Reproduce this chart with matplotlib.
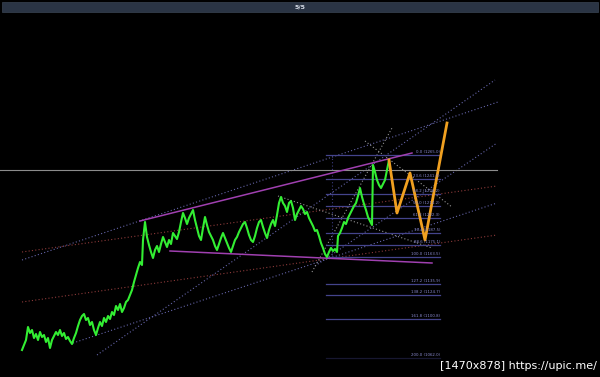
import matplotlib
matplotlib.use("Agg")
import matplotlib.pyplot as plt
from matplotlib.patches import Rectangle

# ---- data (x = bar index, y = price) ----
green_x = [22,24,26,28,30,32,34,36,38,40,42,44,46,48,50,52,54,56,58,60,62,64,66,68,70,72,74,76,78,80,
           82,84,86,88,90,92,94,96,98,100,102,104,106,108,110,112,114,116,118,120,122,124,126,128,130,132,134,136,138,140,
           142,143,145,147,149,151,153,155,157,159,161,163,165,167,169,171,173,175,177,179,181,183,185,187,189,191,193,195,197,199,
           201,203,205,207,209,211,213,215,217,219,221,223,225,227,229,231,233,235,237,239,241,243,245,247,249,251,253,255,257,259,
           261,263,265,267,269,271,273,275,277,279,281,283,285,287,289,291,293,295,297,299,301,303,305,307,309,311,313,315,317,319,
           321,323,325,327,329,331,333,335,337,338,340,342,344,346,348,350,352,354,356,358,360,362,364,366,368,370,372,373,375,377,
           379,381,383,385,387,389]
green_p = [1070,1075,1080,1093,1087,1090,1082,1086,1080,1088,1083,1085,1078,1082,1072,1080,1084,1088,1085,1090,
           1084,1087,1081,1083,1079,1076,1082,1087,1094,1100,1104,1106,1100,1102,1095,1098,1090,1085,1092,1098,
           1094,1102,1098,1104,1101,1108,1105,1114,1110,1116,1108,1112,1118,1120,1125,1130,1138,1145,1152,1158,
           1155,1180,1198,1183,1175,1168,1162,1170,1174,1168,1176,1183,1178,1173,1180,1176,1187,1184,1181,1188,
           1198,1207,1202,1196,1202,1206,1210,1200,1192,1184,1180,1192,1203,1195,1188,1184,1180,1174,1170,1176,
           1182,1187,1182,1177,1172,1168,1174,1180,1183,1188,1192,1196,1198,1192,1185,1180,1178,1184,1192,1198,
           1200,1193,1187,1182,1190,1196,1200,1194,1205,1217,1223,1217,1214,1208,1217,1219,1212,1200,1206,1210,
           1214,1211,1206,1208,1202,1198,1194,1189,1190,1184,1177,1172,1166,1163,1168,1172,1169,1171,1168,1184,
           1187,1192,1198,1196,1202,1206,1210,1214,1217,1224,1232,1223,1216,1210,1203,1199,1195,1255,1248,1240,
           1235,1232,1236,1240,1250,1260]
orange_x = [389, 397, 410, 425, 447]
orange_p = [1260, 1207, 1247, 1180, 1297]

fib_hi, fib_lo = 1265.0, 1163.5
fib_levels = [0.0, 23.6, 38.2, 50.0, 61.8, 76.4, 88.6, 100.0, 127.2, 138.2, 161.8, 200.0]
fib_x0, fib_x1 = 326, 440

hline_price = 1250.5

magenta_lines = [((140, 1199), (412, 1267)), ((170, 1169), (432, 1157))]
lavender_lines = [((22, 1160), (498, 1318)), ((97, 1065), (495, 1340)),
                  ((73, 1077), (497, 1217)), ((315, 1154), (497, 1277))]
red_lines = [((22, 1168), (497, 1234)), ((22, 1118), (497, 1185))]
gray_lines = [((278, 1224), (432, 1172)), ((365, 1279), (452, 1213)), ((312, 1148), (392, 1292))]

# ---- figure ----
fig = plt.figure(figsize=(6.0, 3.77), dpi=100, facecolor="black")
ax = fig.add_axes([0, 0, 1, 1])
ax.set_facecolor("black")
ax.set_xlim(0, 600)
ax.set_ylim(1043, 1420)
ax.axis("off")

dot = (0, (1, 2))
for (a, b) in red_lines:
    ax.plot([a[0], b[0]], [a[1], b[1]], color="#8c3a3a", lw=0.8, ls=dot)
for (a, b) in lavender_lines:
    ax.plot([a[0], b[0]], [a[1], b[1]], color="#6464a8", lw=0.8, ls=dot)
for (a, b) in gray_lines:
    ax.plot([a[0], b[0]], [a[1], b[1]], color="#949494", lw=0.8, ls=dot)

ax.plot([0, 497], [hline_price, hline_price], color="#8c8c8c", lw=0.8)

# fib retracement
ax.plot([332, 332], [fib_hi, fib_lo], color="#3c3c80", lw=0.8, ls=dot)
for lv in fib_levels:
    p = fib_hi - lv / 100.0 * (fib_hi - fib_lo)
    alpha = 0.35 if lv == 200.0 else 1.0
    ax.plot([fib_x0, fib_x1], [p, p], color="#44448c", lw=0.9, alpha=alpha)
    ax.text(fib_x1, p + 0.8, f"{lv:.1f} ({p:.1f})", color="#8a8ad0", fontsize=2.8,
            ha="right", va="bottom")

for (a, b) in magenta_lines:
    ax.plot([a[0], b[0]], [a[1], b[1]], color="#a040b0", lw=1.1)

ax.plot(green_x, green_p, color="#33ee33", lw=1.5)
ax.plot(orange_x, orange_p, color="#f0a020", lw=2.0)

# top bar
fig.patches.append(Rectangle((2 / 600, 1 - 12 / 377), 596 / 600, 10 / 377,
                             transform=fig.transFigure, facecolor="#2a3444",
                             edgecolor="#3a4454", lw=0.5))
fig.text(0.5, 1 - 7 / 377, "5/5", color="#d8dee8", fontsize=4.5, fontweight="bold",
         ha="center", va="center")

# watermark
fig.text(597 / 600, 1 - 366 / 377, "[1470x878] https://upic.me/", color="white",
         fontsize=8, ha="right", va="center")

fig.savefig("out.png", dpi=100, facecolor="black")
